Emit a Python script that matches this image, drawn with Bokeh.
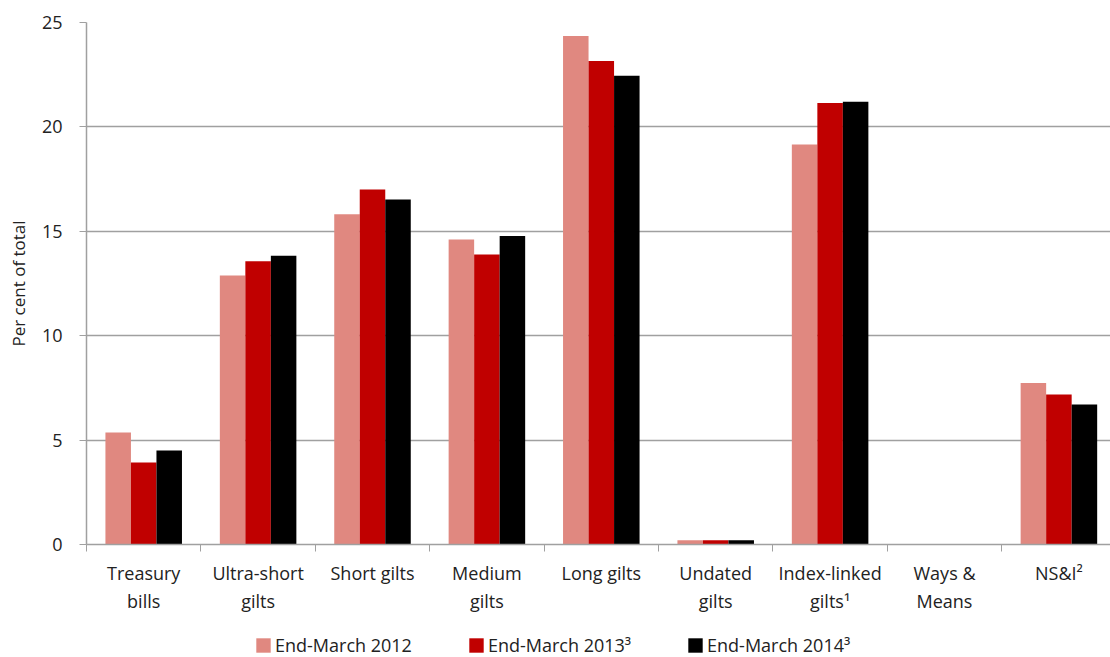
from bokeh.plotting import figure
from bokeh.layouts import column
from bokeh.models import ColumnDataSource, Range1d, FixedTicker, Legend, LegendItem
from bokeh.transform import dodge
from bokeh.embed import file_html
from bokeh.resources import INLINE

categories = ["Treasury\nbills", "Ultra-short\ngilts", "Short gilts", "Medium\ngilts",
              "Long gilts", "Undated\ngilts", "Index-linked\ngilts\u00b9", "Ways &\nMeans", "NS&I\u00b2"]
v2012 = [5.36, 12.88, 15.82, 14.61, 24.35, 0.2, 19.16, 0.0, 7.74]
v2013 = [3.93, 13.57, 17.00, 13.89, 23.16, 0.2, 21.15, 0.0, 7.18]
v2014 = [4.50, 13.83, 16.52, 14.77, 22.45, 0.2, 21.20, 0.0, 6.70]
series_names = ["End-March 2012", "End-March 2013\u00b3", "End-March 2014\u00b3"]
colors = ["#E08880", "#C00000", "#000000"]
y_ticks = [0, 5, 10, 15, 20, 25]

FONT = "Open Sans"
n = len(categories)
centers = [i + 0.5 for i in range(n)]
bw = 0.223

src = ColumnDataSource(dict(x=centers, v2012=v2012, v2013=v2013, v2014=v2014))

p = figure(frame_width=1024, frame_height=522, output_backend="svg", toolbar_location=None,
           x_range=Range1d(0, 8.951), y_range=Range1d(0, 25),
           min_border_left=86, min_border_right=0, min_border_top=22, min_border_bottom=86)
p.outline_line_color = None

for k, (col, c) in enumerate(zip(["v2012", "v2013", "v2014"], colors)):
    p.vbar(x=dodge("x", (k - 1) * bw, range=p.x_range), top=col, width=bw,
           source=src, fill_color=c, line_color=None)

# x axis
xa = p.xaxis[0]
xa.ticker = FixedTicker(ticks=centers, minor_ticks=list(range(n + 1)))
xa.major_label_overrides = {c: lab for c, lab in zip(centers, categories)}
xa.major_tick_out = 0
xa.major_tick_in = 0
xa.minor_tick_out = 7
xa.minor_tick_in = 0
xa.minor_tick_line_color = "#a0a0a0"
xa.axis_line_color = "#a0a0a0"
xa.axis_line_width = 1.5
xa.major_label_text_font = FONT
xa.major_label_text_font_size = "18px"
xa.major_label_text_color = "#222222"
xa.major_label_standoff = 9

# y axis
ya = p.yaxis[0]
ya.ticker = FixedTicker(ticks=y_ticks, minor_ticks=[])
ya.major_tick_out = 7
ya.major_tick_in = 0
ya.major_tick_line_color = "#a0a0a0"
ya.axis_line_color = "#a0a0a0"
ya.axis_line_width = 1.5
ya.major_label_text_font = FONT
ya.major_label_text_font_size = "18px"
ya.major_label_text_color = "#222222"
ya.major_label_standoff = 17
ya.axis_label = "Per cent of total"
ya.axis_label_text_font = FONT
ya.axis_label_text_font_size = "17px"
ya.axis_label_text_font_style = "normal"
ya.axis_label_text_color = "#222222"
ya.axis_label_standoff = 9

p.xgrid.grid_line_color = None
p.ygrid.grid_line_color = "#a0a0a0"
p.ygrid.grid_line_width = 1.5

# legend strip below the chart (its frame aligns with the chart's frame)
lg = figure(width=1110, height=27, output_backend="svg", toolbar_location=None,
            x_range=Range1d(0, 1024), y_range=Range1d(0, 27),
            x_axis_location=None, y_axis_location=None,
            min_border=0, min_border_left=0, min_border_right=0,
            min_border_top=0, min_border_bottom=0)
lg.outline_line_color = None
lg.xgrid.visible = False
lg.ygrid.visible = False
# zero-size proxies so the legend can draw its colour swatches
lrs = [lg.vbar(x="x", top=0, width=0, source=src, fill_color=c, line_color=None) for c in colors]

legend = Legend(items=[LegendItem(label=nm, renderers=[r]) for nm, r in zip(series_names, lrs)],
                orientation="horizontal", location=(168, 0))
legend.label_text_font = FONT
legend.label_text_font_size = "18px"
legend.label_text_color = "#222222"
legend.glyph_width = 18
legend.glyph_height = 18
legend.label_standoff = 3
legend.spacing = 55
legend.padding = 0
legend.margin = 0
legend.border_line_color = None
legend.background_fill_alpha = 0
lg.add_layout(legend, "center")

layout = column(p, lg, spacing=0)
open("out.html", "w").write(file_html(layout, INLINE))
